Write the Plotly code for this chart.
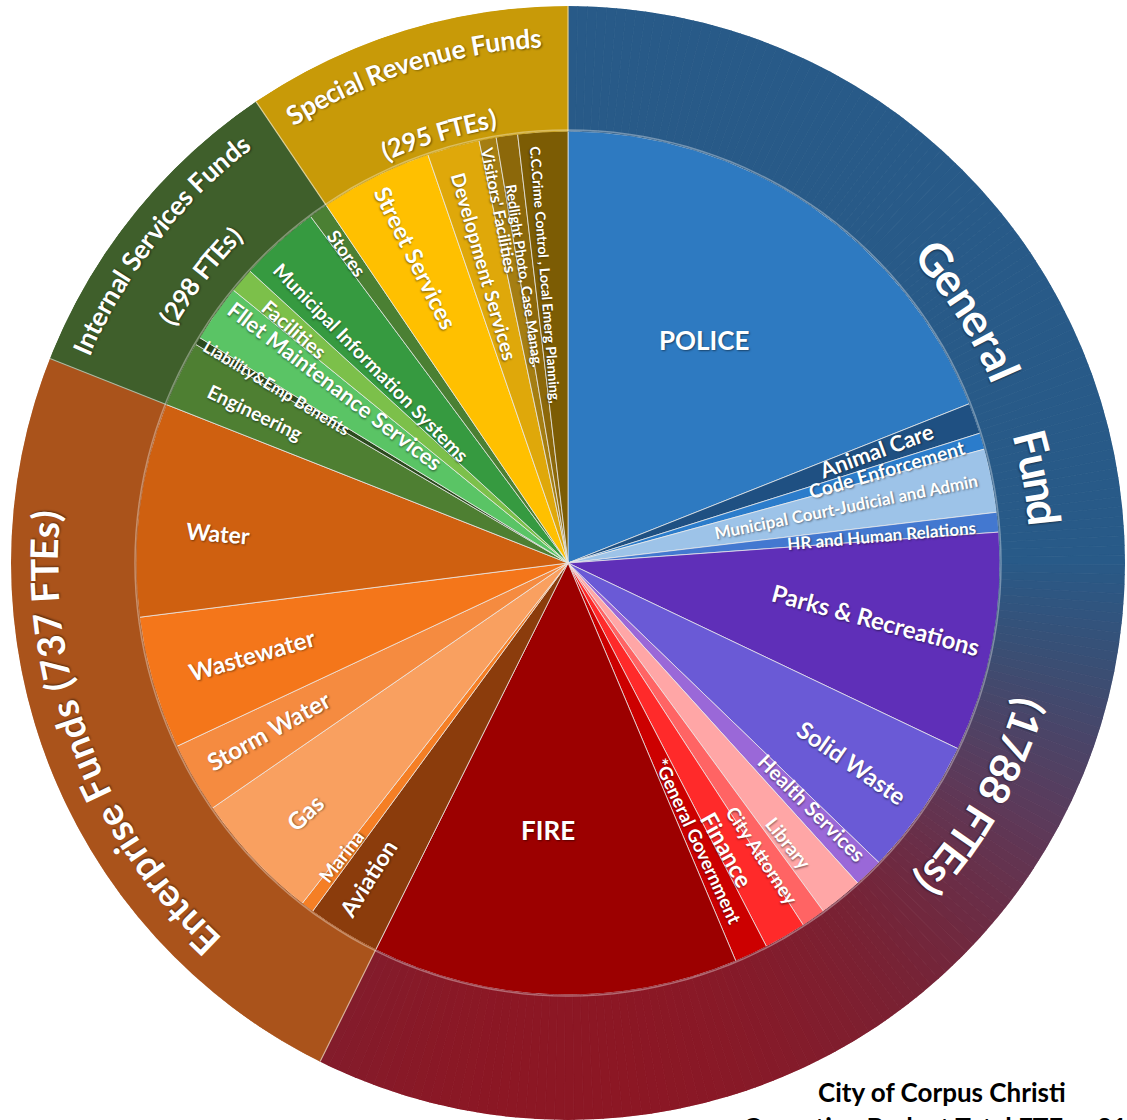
import math
import plotly.graph_objects as go

# ---------------- data ----------------
# Funds (outer ring), clockwise from 12 o'clock
fund_names = ["General Fund", "Enterprise Funds", "Internal Services Funds", "Special Revenue Funds"]
fund_ftes = [1788, 737, 298, 295]

# Departments (inner pie), clockwise from 12 o'clock
dept_names = [
    "POLICE", "Animal Care", "Code Enforcement", "Municipal Court-Judicial and Admin",
    "HR and Human Relations", "Parks & Recreations", "Solid Waste", "Health Services",
    "Library", "City Attorney", "Finance", "*General Government", "FIRE",
    "Aviation", "Marina", "Gas", "Storm Water", "Wastewater", "Water",
    "Engineering", "Liability&Emp Benefits", "Fllet Maintenance Services", "Facilities",
    "Municipal Information Systems", "Stores",
    "Street Services", "Development Services", "Visitors' Facilities",
    "Redlight Photo, Case Manag.", "C.C.Crime Control , Local Emerg Planning,",
]
dept_ftes = [592, 36, 19, 74, 23, 256, 160, 34, 51, 28, 49, 39, 427,
             85, 15, 151, 82, 155, 249,
             77, 9, 67, 29, 94, 22,
             131, 61, 20, 25, 58]
dept_fund = [0] * 13 + [1] * 6 + [2] * 6 + [3] * 5

title_lines = ["City of Corpus Christi", "Operating Budget Total FTEs - {}"]

# ---------------- styling ----------------
dept_colors = {
    "POLICE": "#2E7AC1", "Animal Care": "#1F5082", "Code Enforcement": "#2B7CCB",
    "Municipal Court-Judicial and Admin": "#9DC3E8", "HR and Human Relations": "#4378D0",
    "Parks & Recreations": "#5F2FB8", "Solid Waste": "#6A5AD6", "Health Services": "#9A68D8",
    "Library": "#FFA6A6", "City Attorney": "#FF6464", "Finance": "#FF2A2A",
    "*General Government": "#CC0000", "FIRE": "#9C0000",
    "Aviation": "#8B3C0C", "Marina": "#F57F25", "Gas": "#F9A060", "Storm Water": "#F58B40",
    "Wastewater": "#F4761A", "Water": "#CF6010",
    "Engineering": "#4E7F32", "Liability&Emp Benefits": "#2C4A1E",
    "Fllet Maintenance Services": "#5AC465", "Facilities": "#7CC04A",
    "Municipal Information Systems": "#369A40", "Stores": "#4B8033",
    "Street Services": "#FFC000", "Development Services": "#DFA80A",
    "Visitors' Facilities": "#A57E12", "Redlight Photo, Case Manag.": "#8C680A",
    "C.C.Crime Control , Local Emerg Planning,": "#7C5C04",
}
fund_colors = [None, "#AA531B", "#3F5F2B", "#C89A08"]
# vertical shading of the General Fund band (pixel y -> rgb)
general_shade = [(0, (40, 90, 136)), (560, (40, 90, 136)), (650, (56, 80, 118)),
                 (800, (92, 58, 90)), (950, (120, 34, 52)), (1120, (152, 16, 26))]

# label placement: angle offset from slice middle, radius (px), font size, fixed angle
label_style = {
    "POLICE": (-2.8, 261, 26, 0), "Animal Care": (-0.5, 328, 22, None),
    "Code Enforcement": (0.1, 332, 19.5, None),
    "Municipal Court-Judicial and Admin": (-0.4, 284, 17, None),
    "HR and Human Relations": (0.5, 315, 17, None),
    "Parks & Recreations": (-0.2, 313, 24, 15), "Solid Waste": (0.3, 347, 24, None),
    "Health Services": (-0.8, 346, 20.5, None), "Library": (0.9, 357, 19, None),
    "City Attorney": (1.0, 351, 19, None), "Finance": (1.2, 328, 23.5, None),
    "*General Government": (0.1, 307, 18.5, None), "FIRE": (2.5, 268, 26, 0),
    "Aviation": (1.1, 373, 23, None), "Marina": (0.7, 371, 19, None),
    "Gas": (-0.2, 363, 24, None), "Storm Water": (0.7, 343, 24, None),
    "Wastewater": (0.0, 329, 24, None), "Water": (-2.3, 351, 23, None),
    "Engineering": (-0.2, 347, 19.5, None), "Liability&Emp Benefits": (0.0, 340, 16.5, None),
    "Fllet Maintenance Services": (1.9, 293, 22, None), "Facilities": (-0.3, 360, 20, None),
    "Municipal Information Systems": (-2.4, 281, 19.5, None), "Stores": (-0.2, 381, 18.5, None),
    "Street Services": (0.0, 341, 23.5, None), "Development Services": (-0.4, 308, 19.5, None),
    "Visitors' Facilities": (-0.3, 360, 16.5, None),
    "Redlight Photo, Case Manag.": (-0.4, 290, 14.5, None),
    "C.C.Crime Control , Local Emerg Planning,": (-1.2, 289, 14, None),
}

FONT = "Lato"
W, H = 1127, 1120
CX, CY = 568, 563          # pixel centre of the wheel
R_OUT = 557                # outer radius (px)
R_PIE = 432                # radius of the department pie (px)
SHADOW = "1px 1px 2px rgba(0,0,0,0.45)"


def to_paper(theta, r):
    t = math.radians(theta)
    return (CX + r * math.sin(t)) / W, 1 - (CY - r * math.cos(t)) / H


def lerp_color(stops, y):
    for (y0, c0), (y1, c1) in zip(stops[:-1], stops[1:]):
        if y0 <= y <= y1:
            f = (y - y0) / (y1 - y0) if y1 > y0 else 0
            return "rgb({},{},{})".format(*[round(a + (b - a) * f) for a, b in zip(c0, c1)])
    c = stops[-1][1] if y > stops[-1][0] else stops[0][1]
    return "rgb({},{},{})".format(*c)


total = sum(fund_ftes)
deg = 360.0 / total

# ---- department slices ----
starts, spans = [], []
acc = 0
for v in dept_ftes:
    starts.append(acc * deg)
    spans.append(v * deg)
    acc += v
mids = [s + w / 2 for s, w in zip(starts, spans)]

fig = go.Figure()
fig.add_trace(go.Barpolar(
    r=[R_PIE] * len(dept_ftes), theta=mids, width=spans,
    marker=dict(color=[dept_colors[n] for n in dept_names],
                line=dict(color="rgba(235,235,235,0.75)", width=1)),
    hoverinfo="text", text=[f"{n}: {v}" for n, v in zip(dept_names, dept_ftes)],
))

# ---- fund ring ----
f_starts, acc = [], 0
for v in fund_ftes:
    f_starts.append(acc * deg)
    acc += v

ring_theta, ring_width, ring_col = [], [], []
r_mid = (R_PIE + R_OUT) / 2
for i, v in enumerate(fund_ftes):
    a0, a1 = f_starts[i], f_starts[i] + v * deg
    if fund_colors[i] is None:
        n = max(1, int(round(a1 - a0)))
        step = (a1 - a0) / n
        for k in range(n):
            t = a0 + (k + 0.5) * step
            y = CY - r_mid * math.cos(math.radians(t))
            ring_theta.append(t)
            ring_width.append(step)
            ring_col.append(lerp_color(general_shade, y))
    else:
        ring_theta.append((a0 + a1) / 2)
        ring_width.append(a1 - a0)
        ring_col.append(fund_colors[i])

fig.add_trace(go.Barpolar(
    r=[R_OUT - R_PIE] * len(ring_theta), base=[R_PIE] * len(ring_theta),
    theta=ring_theta, width=ring_width,
    marker=dict(color=ring_col, line=dict(color=ring_col, width=0.8)),
    hoverinfo="skip",
))

# fund boundaries on the ring
bt, br = [], []
for a in f_starts:
    bt += [a, a, None]
    br += [R_PIE, R_OUT, None]
fig.add_trace(go.Scatterpolar(r=br, theta=bt, mode="lines",
                              line=dict(color="rgba(255,255,255,0.55)", width=1.2),
                              hoverinfo="skip"))
# soft highlight on the inner edge of the ring
circ = [i * 2 for i in range(181)]
fig.add_trace(go.Scatterpolar(r=[R_PIE + 1] * len(circ), theta=circ, mode="lines",
                              line=dict(color="rgba(255,255,255,0.35)", width=1.5),
                              hoverinfo="skip"))

# ---------------- labels ----------------
ann = []


def radial_angle(t):
    t %= 360
    return t - 90 if t < 180 else t - 270


for i, name in enumerate(dept_names):
    dth, r, size, ang = label_style[name]
    t = mids[i] + dth
    x, y = to_paper(t, r)
    ann.append(dict(x=x, y=y, xref="paper", yref="paper", text=name, showarrow=False,
                    xanchor="center", yanchor="middle",
                    textangle=radial_angle(t) if ang is None else ang,
                    font=dict(family=FONT, size=size, color="white", weight="bold",
                              shadow=SHADOW)))

# curved fund captions: one annotation per character
CW = {" ": 0.26, "(": 0.32, ")": 0.32, "I": 0.28, "F": 0.55, "T": 0.55, "E": 0.55,
      "S": 0.52, "R": 0.62, "G": 0.70, "a": 0.51, "c": 0.46, "d": 0.58, "e": 0.52,
      "i": 0.25, "l": 0.25, "n": 0.565, "p": 0.58, "r": 0.39, "s": 0.425, "t": 0.36,
      "u": 0.565, "v": 0.52}


def arc_text(text, r, t_first, t_last, size):
    w = [CW.get(c, 0.58) for c in text]
    centers, acc = [], 0
    for wi in w:
        centers.append(acc + wi / 2)
        acc += wi
    c0, c1 = centers[0], centers[-1]
    for ch, c in zip(text, centers):
        if ch == " ":
            continue
        t = t_first + (c - c0) / (c1 - c0) * (t_last - t_first)
        x, y = to_paper(t, r)
        a = t % 360
        if a > 180:
            a -= 360
        ann.append(dict(x=x, y=y, xref="paper", yref="paper", text=ch, showarrow=False,
                        xanchor="center", yanchor="middle", textangle=a,
                        font=dict(family=FONT, size=size, color="white", weight="bold",
                                  shadow=SHADOW)))


gen_words = fund_names[0].split()
ring_captions = [
    (gen_words[0], 477, 50.3, 66.5, 45),
    (gen_words[1], 479, 75.5, 84.0, 45),
    (f"({fund_ftes[0]} FTEs)", 484, 107.2, 131.8, 42),
    (f"{fund_names[1]} ({fund_ftes[1]} FTEs)", 525, 223.8, 275.2, 38),
    (fund_names[2], 531, 293.7, 322.1, 26.5),
    (f"({fund_ftes[2]} FTEs)", 469, 301.3, 314.6, 25.5),
    (fund_names[3], 526, 328.7, 356.5, 26.5),
    (f"({fund_ftes[3]} FTEs)", 451, 336.1, 350.3, 25.5),
]
for cap in ring_captions:
    arc_text(*cap)

# caption at the bottom right
ann.append(dict(x=942 / W, y=1 - 1092 / H, xref="paper", yref="paper", text=title_lines[0],
                showarrow=False, xanchor="center", yanchor="middle",
                font=dict(family=FONT, size=26, color="black", weight="bold")))
ann.append(dict(x=741 / W, y=1 - 1127 / H, xref="paper", yref="paper",
                text=title_lines[1].format(total),
                showarrow=False, xanchor="left", yanchor="middle",
                font=dict(family=FONT, size=26, color="black", weight="bold")))

fig.update_layout(
    width=W, height=H, margin=dict(l=0, r=0, t=0, b=0),
    paper_bgcolor="white", plot_bgcolor="white", showlegend=False,
    polar=dict(
        domain=dict(x=[(CX - R_OUT) / W, (CX + R_OUT) / W],
                    y=[1 - (CY + R_OUT) / H, 1 - (CY - R_OUT) / H]),
        bgcolor="rgba(0,0,0,0)", bargap=0, barmode="overlay",
        angularaxis=dict(rotation=90, direction="clockwise", visible=False, showgrid=False),
        radialaxis=dict(range=[0, R_OUT], visible=False, showgrid=False),
    ),
    annotations=ann,
)

fig.write_html("out.html")
